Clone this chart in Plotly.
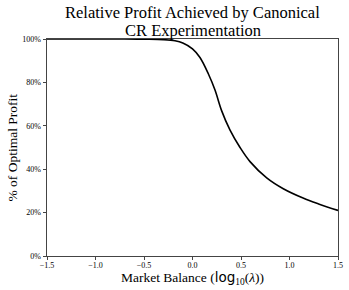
import plotly.graph_objects as go

log_lambda = [-1.5, -1.0, -0.7, -0.5, -0.3, -0.18, -0.10, 0.0, 0.077, 0.163, 0.232, 0.30, 0.387, 0.49, 0.593, 0.765, 0.936, 1.14, 1.30, 1.5]
pct_profit = [100, 100, 100, 99.9, 99.7, 99.2, 98.2, 95.5, 91.5, 84, 76.5, 67, 58, 50, 43.5, 36, 31, 26.7, 24, 21]

x_ticks = [-1.5, -1.0, -0.5, 0.0, 0.5, 1.0, 1.5]
x_tick_text = ["\u22121.5", "\u22121.0", "\u22120.5", "0.0", "0.5", "1.0", "1.5"]
y_ticks = [0, 20, 40, 60, 80, 100]
y_tick_text = ["0%", "20%", "40%", "60%", "80%", "100%"]

title_lines = ["Relative Profit Achieved by Canonical", "CR Experimentation"]
x_title = "Market Balance (<span style='font-family:DejaVu Sans'>log</span><sub>10</sub>(<i>\u03bb</i>))"
y_title = "% of Optimal Profit"

serif = "Liberation Serif, DejaVu Serif, serif"

fig = go.Figure()
fig.add_trace(go.Scatter(x=log_lambda, y=pct_profit, mode="lines",
                         line=dict(color="black", width=1.6, shape="spline", smoothing=1.0),
                         showlegend=False))

fig.update_layout(
    width=349, height=290,
    margin=dict(l=47, r=11, t=39, b=34, autoexpand=False),
    paper_bgcolor="white", plot_bgcolor="white",
    font=dict(family=serif, color="black"),
    annotations=[
        dict(text=title_lines[0], xref="paper", yref="paper", x=0.5, y=1, yshift=27,
             xanchor="center", yanchor="middle", showarrow=False, font=dict(size=16.5, family=serif)),
        dict(text=title_lines[1], xref="paper", yref="paper", x=0.5, y=1, yshift=9,
             xanchor="center", yanchor="middle", showarrow=False, font=dict(size=16.5, family=serif)),
        dict(text=x_title, xref="paper", yref="paper", x=0.5, y=0, yshift=-22,
             xanchor="center", yanchor="middle", showarrow=False, font=dict(size=13.5, family=serif)),
        dict(text=y_title, xref="paper", yref="paper", x=0, y=0.5, xshift=-35, textangle=-90,
             xanchor="center", yanchor="middle", showarrow=False, font=dict(size=13.5, family=serif)),
    ],
)
fig.update_xaxes(range=[-1.5, 1.5], tickvals=x_ticks, ticktext=x_tick_text, automargin=False,
                 showgrid=False, zeroline=False, showline=True, linecolor="#444", linewidth=1,
                 mirror=True, ticks="outside", ticklen=3, tickcolor="#444", ticklabelstandoff=-2,
                 tickfont=dict(size=8, family=serif, color="black"))
fig.update_yaxes(range=[0, 100], tickvals=y_ticks, ticktext=y_tick_text, automargin=False,
                 showgrid=False, zeroline=False, showline=True, linecolor="#444", linewidth=1,
                 mirror=True, ticks="outside", ticklen=3.5, tickcolor="#444",
                 tickfont=dict(size=8, family=serif, color="black"))

fig.write_html("out.html", config={"displayModeBar": False},
               post_script="document.body.style.margin='0';document.body.style.padding='0';")
